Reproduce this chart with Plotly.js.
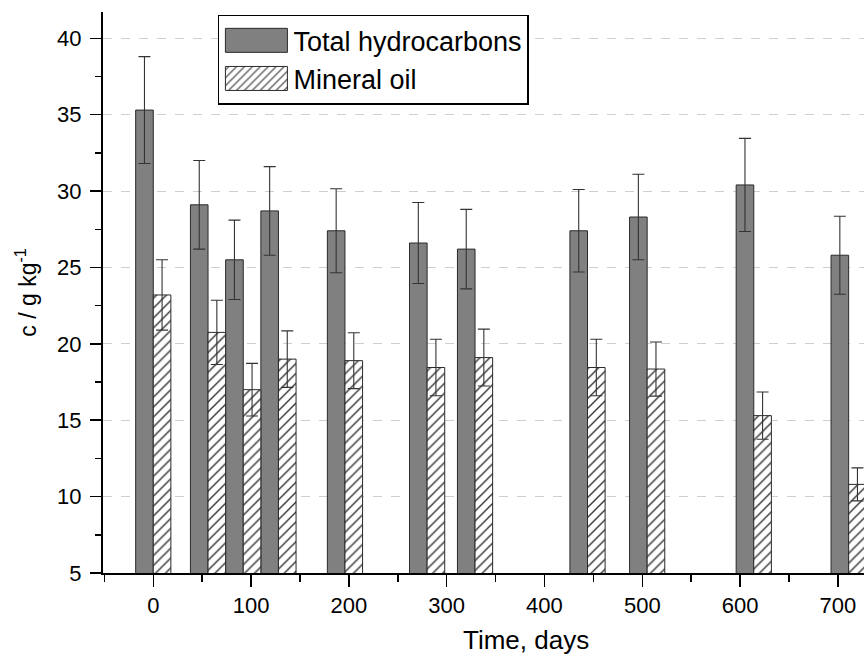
<!DOCTYPE html>
<html>
<head>
<meta charset="utf-8">
<script src="https://cdn.plot.ly/plotly-3.0.1.min.js"></script>
<style>
html,body{margin:0;padding:0;background:#fff;}
#chart{width:864px;height:655px;}
</style>
</head>
<body>
<div id="chart"></div>
<script>
// Sampling times (days)
const days = [0, 56, 92, 128, 196, 280, 329, 444, 505, 614, 711];
// Total hydrocarbons, g/kg
const totalHC = [35.3, 29.1, 25.5, 28.7, 27.4, 26.6, 26.2, 27.4, 28.3, 30.4, 25.8];
const totalHCErr = [3.5, 2.9, 2.6, 2.9, 2.75, 2.65, 2.6, 2.7, 2.8, 3.05, 2.55];
// Mineral oil, g/kg
const mineralOil = [23.2, 20.75, 17.0, 19.0, 18.9, 18.45, 19.1, 18.45, 18.35, 15.3, 10.8];
const mineralOilErr = [2.3, 2.1, 1.72, 1.85, 1.83, 1.85, 1.86, 1.85, 1.77, 1.55, 1.08];

const seriesNames = ['Total hydrocarbons', 'Mineral oil'];
const xTitle = 'Time, days';
const yTitle = 'c / g kg<sup>-1</sup>';

const FONT = 'Arial, "Liberation Sans", sans-serif';

const traces = [
  {
    type: 'bar', name: seriesNames[0],
    x: days, y: totalHC,
    offset: -18, width: 18,
    marker: {color: '#808080', line: {color: '#2a2a2a', width: 1}},
    error_y: {type: 'data', array: totalHCErr, visible: true, color: '#333', thickness: 1.1, width: 6}
  },
  {
    type: 'bar', name: seriesNames[1],
    x: days, y: mineralOil,
    offset: 0, width: 18,
    marker: {
      color: '#ffffff',
      line: {color: '#2a2a2a', width: 1},
      pattern: {shape: '/', fgcolor: '#333', bgcolor: '#ffffff', size: 7, solidity: 0.2}
    },
    error_y: {type: 'data', array: mineralOilErr, visible: true, color: '#333', thickness: 1.1, width: 6}
  }
];

const layout = {
  width: 864, height: 655,
  margin: {l: 103, r: 0, t: 12, b: 82},
  paper_bgcolor: '#ffffff', plot_bgcolor: '#ffffff',
  barmode: 'overlay',
  font: {family: FONT, color: '#000'},
  showlegend: true,
  legend: {
    x: 0.151, y: 0.995, xanchor: 'left', yanchor: 'top',
    bgcolor: '#ffffff', bordercolor: '#000', borderwidth: 1.5,
    font: {family: FONT, size: 27, color: '#000'},
    itemwidth: 64
  },
  xaxis: {
    range: [-51.4, 726.7],
    tick0: 0, dtick: 100,
    ticks: 'outside', ticklen: 12, tickwidth: 1.5, tickcolor: '#000',
    minor: {dtick: 50, tick0: 0, ticks: 'outside', ticklen: 7, tickwidth: 1.5, tickcolor: '#000'},
    showline: true, linecolor: '#000', linewidth: 2,
    showgrid: false, zeroline: false,
    tickfont: {family: FONT, size: 22, color: '#000'}
  },
  yaxis: {
    range: [5, 41.72],
    tick0: 0, dtick: 5,
    ticks: 'outside', ticklen: 11, tickwidth: 1.5, tickcolor: '#000',
    minor: {dtick: 2.5, tick0: 0, ticks: 'outside', ticklen: 6, tickwidth: 1.5, tickcolor: '#000', showgrid: false},
    showline: true, linecolor: '#000', linewidth: 2,
    showgrid: true, gridcolor: '#cfcfcf', griddash: 'dash', gridwidth: 1,
    zeroline: false,
    ticklabelstandoff: 4,
    tickfont: {family: FONT, size: 22, color: '#000'},
    title: {text: yTitle, font: {family: FONT, size: 23, color: '#000'}, standoff: 14}
  },
  annotations: [
    {text: xTitle, xref: 'x', yref: 'paper', x: 381, y: -0.12, xanchor: 'center', yanchor: 'middle',
     showarrow: false, font: {family: FONT, size: 26, color: '#000'}}
  ]
};

function widenSwatches(gd) {
  // enlarge legend swatches to match the reference's wide boxes
  gd.querySelectorAll('g.legendpoints path').forEach(function(p){
    p.setAttribute('d', 'M31,12H-31V-12H31Z');
  });
}

Plotly.newPlot('chart', traces, layout, {staticPlot: true}).then(function(gd){
  widenSwatches(gd);
  gd.on('plotly_afterplot', function(){ widenSwatches(gd); });
  setTimeout(function(){ widenSwatches(gd); }, 50);
});
</script>
</body>
</html>
